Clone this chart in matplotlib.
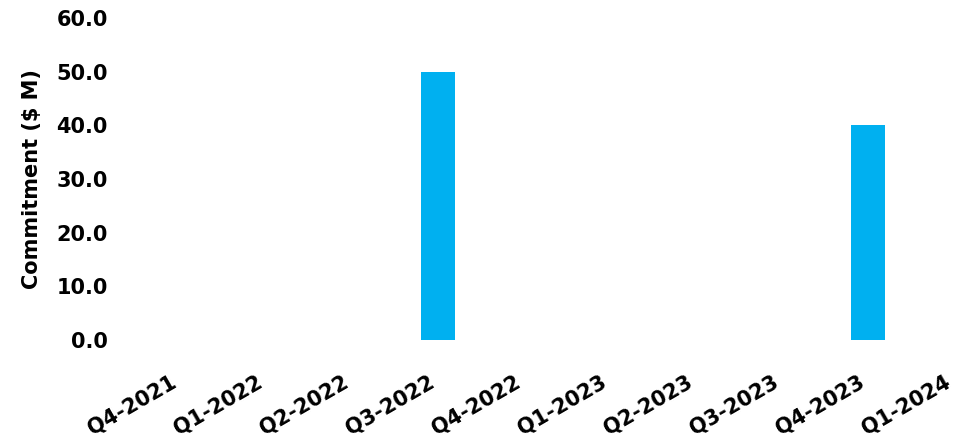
import matplotlib.pyplot as plt
import numpy as np

# Quarterly commitments ($ M)
quarters = ["Q4-2021", "Q1-2022", "Q2-2022", "Q3-2022", "Q4-2022",
            "Q1-2023", "Q2-2023", "Q3-2023", "Q4-2023", "Q1-2024"]
commitment = [0, 0, 0, 50.0, 0, 0, 0, 0, 40.0, 0]
y_ticks = [0, 10, 20, 30, 40, 50, 60]

plt.rcParams["font.family"] = ["DejaVu Sans"]
plt.rcParams["font.weight"] = "bold"

fig = plt.figure(figsize=(9.59, 4.47), dpi=100)
ax = fig.add_axes([0.1429, 0.2394, 1 - 0.1429, 0.9597 - 0.2394])

x = np.arange(len(quarters))
ax.bar(x, commitment, width=0.4, color="#00B0F0")

ax.set_xlim(-0.5, 9.058)
ax.set_ylim(0, 60)
ax.set_yticks(y_ticks)
ax.set_yticklabels([f"{v:.1f}" for v in y_ticks], fontsize=15, fontweight="bold")
ax.set_xticks(x)
ax.set_xticklabels(quarters, rotation=30, ha="right", fontsize=15, fontweight="bold")
ax.tick_params(axis="y", length=0, pad=21)
ax.tick_params(axis="x", length=0, pad=23)
ax.set_ylabel("Commitment ($ M)", fontsize=15, fontweight="bold")
ax.yaxis.set_label_coords(-0.1156, 0.5)

for s in ax.spines.values():
    s.set_visible(False)

fig.savefig("out.png", dpi=100)
